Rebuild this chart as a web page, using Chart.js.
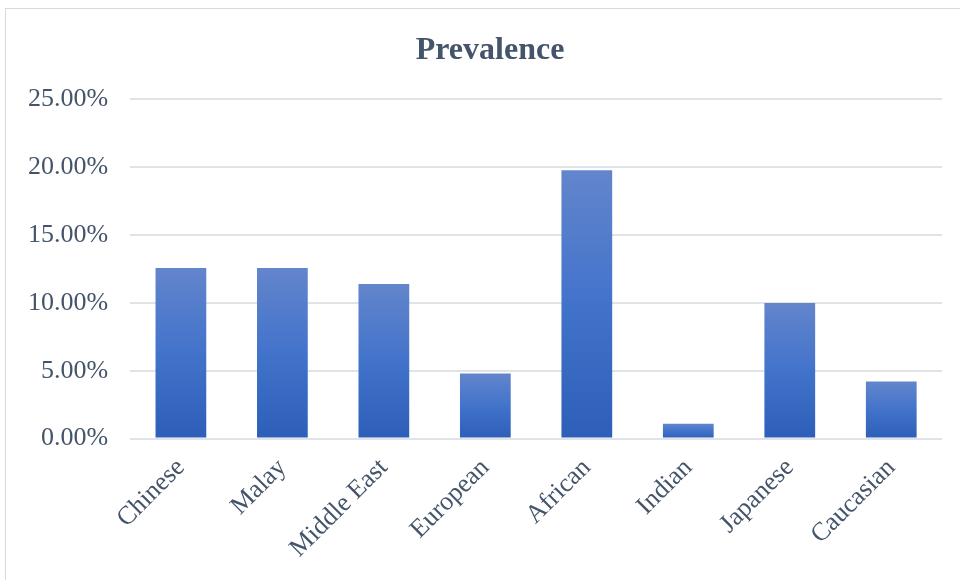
<!DOCTYPE html>
<html>
<head>
<meta charset="utf-8">
<script src="https://cdn.jsdelivr.net/npm/chart.js@4"></script>
<style>
    html, body { margin: 0; padding: 0; background: #fff; }
    #wrap { position: absolute; left: 0; top: 0; width: 960px; height: 580px; }
</style>
</head>
<body>
<div id="wrap"><canvas id="chartfield" width="960" height="580"></canvas></div>
<script>
const categories = ["Chinese", "Malay", "Middle East", "European", "African", "Indian", "Japanese", "Caucasian"];
const prevalence = [12.57, 12.57, 11.4, 4.8, 19.78, 1.1, 10.0, 4.2];
const yTicks = [0, 5, 10, 15, 20, 25];

const textColor = "#44546a";
const serif = "'Liberation Serif', 'Times New Roman', serif";

function barGradient(context) {
    const chart = context.chart;
    const yScale = chart.scales && chart.scales.y;
    if (!chart.chartArea || !yScale) return "#4472c4";
    const top = yScale.getPixelForValue(context.raw);
    const bottom = yScale.getPixelForValue(0);
    const g = chart.ctx.createLinearGradient(0, top, 0, bottom);
    g.addColorStop(0, "#6385cc");
    g.addColorStop(0.5, "#4273cb");
    g.addColorStop(1, "#2d5fb8");
    return g;
}

// light frame around the whole chart, title nudged a bit to the right
const framePlugin = {
    id: "frame",
    afterLayout(chart) {
        if (chart.titleBlock) {
            chart.titleBlock.left += 16;
            chart.titleBlock.right += 16;
        }
    },
    beforeDraw(chart) {
        const c = chart.ctx;
        c.save();
        c.strokeStyle = "#d9d9d9";
        c.lineWidth = 1;
        c.strokeRect(5.5, 8.5, 960, 580);
        c.restore();
    },
};

const chart = new Chart(document.querySelector("#chartfield"), {
    type: "bar",
    data: {
        labels: categories,
        datasets: [
            {
                label: "Prevalence",
                data: prevalence,
                backgroundColor: barGradient,
                barPercentage: 0.5,
                categoryPercentage: 1.0,
            },
        ],
    },
    options: {
        responsive: false,
        animation: false,
        layout: { padding: { left: 6, right: 18, top: 32, bottom: 2 } },
        plugins: {
            legend: { display: false },
            tooltip: { enabled: false },
            title: {
                display: true,
                text: "Prevalence",
                color: textColor,
                font: { family: serif, size: 32, weight: "bold" },
                padding: { top: 0, bottom: 29 },
            },
        },
        scales: {
            x: {
                grid: { display: false, drawTicks: false },
                border: { display: false },
                ticks: {
                    color: textColor,
                    font: { family: serif, size: 26 },
                    minRotation: 45,
                    maxRotation: 45,
                    padding: 14,
                },
            },
            y: {
                min: 0,
                max: 25,
                afterBuildTicks(axis) {
                    axis.ticks = yTicks.map((v) => ({ value: v }));
                },
                grid: { color: "#e0e3e8", lineWidth: 2, drawTicks: false },
                border: { display: false },
                ticks: {
                    color: textColor,
                    font: { family: serif, size: 26 },
                    padding: 22,
                    callback: (v) => v.toFixed(2) + "%",
                },
            },
        },
    },
    plugins: [framePlugin],
});
</script>
</body>
</html>
